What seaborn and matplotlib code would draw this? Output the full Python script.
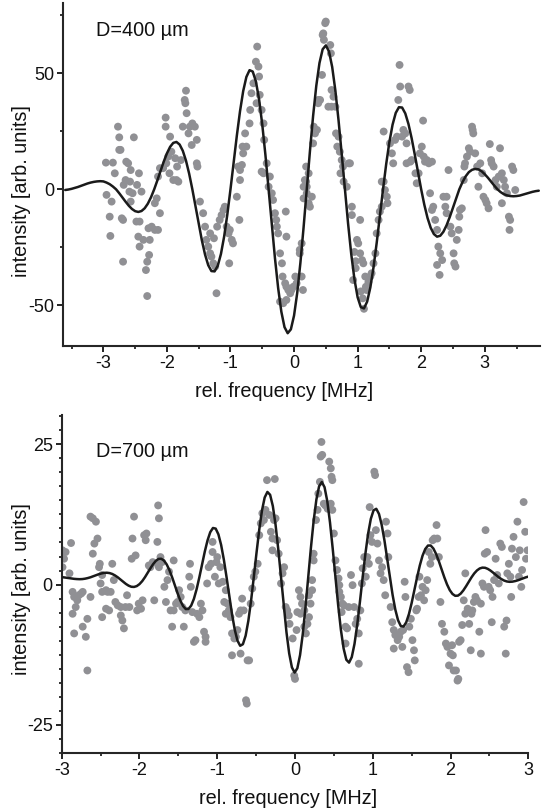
import numpy as np
import pandas as pd
import matplotlib
matplotlib.use("Agg")
import matplotlib.pyplot as plt
import seaborn as sns

# ---------------- data: top panel (D = 400 um) ----------------
top_pts_x = [-2.96,-2.85,-2.77,-2.75,-2.75,-2.73,-2.82,-2.95,-2.87,-2.90,-2.89,-2.71,-2.69,-2.69,-2.58,-2.52,-2.64,-2.61,-2.57,-2.65,
             -2.68,-2.59,-2.57,-2.54,-2.47,-2.44,-2.40,-2.48,-2.43,-2.45,-2.43,-2.37,-2.29,-2.27,-2.24,-2.31,-2.28,-2.33,-2.31,-2.19,
             -2.14,-2.11,-2.19,-2.16,-2.14,-2.11,-2.06,-2.01,-1.98,-1.95,-2.02,-2.02,-1.93,-1.87,-1.84,-1.85,-1.82,-1.90,-1.96,-1.78,
             -1.75,-1.72,-1.70,-1.71,-1.69,-1.66,-1.64,-1.60,-1.56,-1.53,-1.52,-1.53,-1.61,-1.48,-1.43,-1.40,-1.38,-1.35,-1.32,-1.30,
             -1.27,-1.24,-1.22,-1.32,-1.26,-1.21,-1.17,-1.14,-1.11,-1.09,-1.06,-1.03,-1.01,-0.98,-0.96,-1.02,-0.86,-0.90,-0.85,-0.85,
             -0.88,-0.82,-0.80,-0.81,-0.77,-0.75,-0.70,-0.69,-0.67,-0.64,-0.60,-0.58,-0.56,-0.55,-0.54,-0.59,-0.51,-0.48,-0.47,-0.48,
             -0.51,-0.43,-0.38,-0.40,-0.35,-0.33,-0.30,-0.28,-0.27,-0.25,-0.22,-0.19,-0.18,-0.14,-0.12,-0.09,-0.06,-0.04,-0.12,-0.17,
             -0.22,-0.01,0.04,0.02,0.09,-0.12,-0.13,0.12,0.15,0.20,0.19,0.15,
             0.09,0.12,0.14,0.17,0.20,0.23,0.25,0.28,0.23,0.19,0.30,0.33,0.36,0.31,0.38,0.38,0.41,0.44,0.45,0.47,
             0.49,0.46,0.50,0.57,0.58,0.59,0.62,0.65,0.59,0.54,0.66,0.70,0.68,0.72,0.75,0.77,0.73,0.78,0.83,0.86,
             0.88,0.91,0.91,0.93,0.99,1.01,1.04,1.04,1.07,1.09,1.12,1.13,1.14,1.20,1.22,1.25,1.28,1.30,1.33,1.35,
             1.38,1.38,1.41,1.43,1.46,1.47,1.41,1.51,1.54,1.56,1.59,1.62,1.64,1.66,1.67,1.70,1.72,1.75,1.77,1.80,
             1.82,1.77,1.83,1.85,1.91,1.93,1.96,1.98,2.01,2.03,2.04,2.06,2.09,2.12,2.14,2.17,2.17,2.19,2.22,2.25,
             2.27,2.30,2.33,2.29,2.25,2.35,2.40,2.43,2.38,2.40,2.46,2.48,2.51,2.52,2.54,2.56,2.59,2.60,2.61,2.64,
             2.67,2.68,2.69,2.72,2.75,2.77,2.80,2.81,2.82,2.85,2.88,2.90,2.93,2.96,2.98,3.01,3.03,3.06,3.08,3.10,
             3.11,3.14,3.17,3.19,3.22,3.24,3.27,3.30,3.27,3.32,3.35,3.38,3.39,3.43,3.45,3.48,3.40,
             1.10,1.08,1.05,0.97,0.95,0.97,1.17]
top_pts_y = [11.5,11.5,27.0,22.4,17.0,17.0,6.9,-2.4,-5.3,-11.8,-20.1,-12.5,-13.2,-31.2,3.3,22.4,11.9,11.2,8.3,4.0,
             1.9,-1.0,-5.3,-1.7,1.9,6.9,-1.0,-13.9,-13.9,-20.4,-24.7,-21.8,-16.8,-21.8,-16.1,-31.2,-28.3,-34.8,-46.0,-17.5,
             -17.5,-10.3,-6.0,-3.9,5.5,9.1,9.1,11.2,14.1,22.7,27.0,30.9,16.2,13.4,9.8,4.0,3.3,4.0,6.9,12.6,
             27.0,38.5,42.5,37.1,32.8,24.1,27.0,28.4,27.0,21.3,9.8,11.2,19.1,-5.3,-10.3,-16.1,-21.8,-24.7,-27.6,-29.0,
             -31.9,-33.3,-44.8,-19.0,-21.1,-16.1,-13.2,-11.1,-8.9,-7.5,-16.1,-19.0,-17.5,-21.8,-23.3,-31.9,-13.2,-3.2,4.0,8.3,
             9.8,10.5,15.5,18.4,24.1,18.4,28.4,34.2,41.4,45.7,55.0,61.5,52.9,48.6,40.7,37.1,34.2,28.4,21.3,6.9,
             7.6,11.2,5.5,1.1,-1.7,-4.6,-10.3,-13.2,-16.1,-19.0,-27.6,-31.9,-37.6,-40.5,-42.0,-43.4,-44.8,-43.4,-47.7,-49.1,
             -48.4,-42.0,-40.5,-37.6,-26.1,-20.4,-9.6,-23.3,1.1,1.1,3.3,-3.9,
             -27.6,-37.6,-43.4,4.0,-1.7,-6.0,-7.5,-3.2,6.9,9.8,19.8,24.1,25.6,27.0,38.5,37.1,38.5,49.3,66.5,64.4,
             71.6,67.2,72.3,62.2,58.6,42.8,39.9,35.6,35.6,35.6,24.1,22.7,18.4,16.2,12.6,9.8,6.9,3.3,1.1,11.2,
             11.2,-7.5,-11.1,-39.1,-21.8,-23.3,-13.2,-27.6,-30.5,-31.9,-37.6,-42.0,-43.4,-37.6,-36.2,-31.9,-27.6,-19.0,-13.2,-9.6,
             -7.5,3.3,3.3,-0.3,-3.2,-6.0,24.9,19.8,15.5,11.2,21.3,22.7,38.5,53.6,44.3,22.7,25.6,24.1,19.8,44.3,
             42.8,11.2,11.9,12.6,6.9,2.6,6.9,15.5,18.4,29.6,14.1,11.9,12.6,11.2,-1.7,11.9,-8.9,-7.5,-13.2,-17.5,
             -24.7,-27.6,-30.5,-36.9,-32.6,-3.2,-3.2,8.3,-7.5,-10.3,-16.1,-19.0,-27.6,-31.9,-33.3,-21.8,-17.5,-11.8,-8.9,-8.2,
             4.0,9.8,11.2,14.1,17.7,16.2,27.0,25.6,24.1,15.5,9.8,1.1,11.2,6.9,-3.2,-4.6,-6.0,-8.2,19.5,12.6,
             11.2,9.8,4.0,1.1,5.5,17.7,6.9,4.0,-6.0,1.1,-1.7,-11.8,-17.5,9.8,8.3,-0.3,-13.2,
             -51.5,-47.0,-44.0,-34.0,-27.0,-31.0,-40.0]

top_fit_x = [-3.60,-3.55,-3.50,-3.45,-3.40,-3.35,-3.30,-3.25,-3.20,-3.15,-3.10,-3.05,-3.00,-2.95,-2.90,-2.85,-2.80,-2.75,-2.70,-2.65,
             -2.60,-2.55,-2.50,-2.45,-2.40,-2.35,-2.30,-2.25,-2.20,-2.15,-2.10,-2.05,-2.00,-1.95,-1.90,-1.85,-1.80,-1.75,-1.70,-1.65,
             -1.60,-1.55,-1.50,-1.45,-1.40,-1.35,-1.30,-1.25,-1.20,-1.15,-1.10,-1.05,-1.00,-0.95,-0.90,-0.85,-0.80,-0.75,-0.70,-0.65,
             -0.60,-0.55,-0.50,-0.45,-0.40,-0.35,-0.30,-0.25,-0.20,-0.15,-0.10,-0.05,0.00,0.05,0.10,0.15,0.20,0.25,0.30,0.35,
             0.40,0.45,0.50,0.55,0.60,0.65,0.70,0.75,0.80,0.85,0.90,0.95,1.00,1.05,1.10,1.15,1.20,1.25,1.30,1.35,
             1.40,1.45,1.50,1.55,1.60,1.65,1.70,1.75,1.80,1.85,1.90,1.95,2.00,2.05,2.10,2.15,2.20,2.25,2.30,2.35,
             2.40,2.45,2.50,2.55,2.60,2.65,2.70,2.75,2.80,2.85,2.90,2.95,3.00,3.05,3.10,3.15,3.20,3.25,3.30,3.35,
             3.40,3.45,3.50,3.55,3.60,3.65,3.70,3.75,3.80,3.85]
top_fit_y = [-0.3,-0.1,0.2,0.6,1.0,1.5,2.0,2.5,2.9,3.2,3.4,3.5,3.4,2.9,2.2,1.2,0.0,-1.69,-3.51,-5.35,
             -7.07,-8.47,-9.42,-9.76,-9.36,-8.18,-6.18,-3.41,0.0,3.87,7.95,11.93,15.48,18.29,20.01,20.41,19.29,16.59,12.34,6.71,
             0.0,-7.38,-14.90,-22.02,-28.14,-32.71,-35.24,-35.38,-32.93,-27.86,-20.40,-10.93,0.0,11.63,23.13,33.64,42.33,48.42,51.35,50.76,
             46.50,38.74,27.93,14.72,0.0,-15.20,-29.74,-42.58,-52.74,-59.41,-62.02,-60.35,-54.42,-44.63,-31.67,-16.44,0.0,16.44,31.67,44.63,
             54.42,60.35,62.02,59.41,52.74,42.58,29.74,15.20,0.0,-14.72,-27.93,-38.74,-46.50,-50.76,-51.35,-48.42,-42.33,-33.64,-23.13,-11.63,
             0.0,10.93,20.40,27.86,32.93,35.38,35.24,32.71,28.14,22.02,14.90,7.38,0.0,-6.71,-12.34,-16.59,-19.29,-20.41,-20.01,-18.29,
             -15.48,-11.93,-7.95,-3.87,0.0,3.1,5.6,7.4,8.4,8.8,8.6,7.8,6.5,5.0,3.3,1.6,0.0,-1.2,-2.1,-2.6,
             -2.9,-3.0,-2.9,-2.7,-2.3,-1.9,-1.5,-1.1,-0.8,-0.6]

# ---------------- data: bottom panel (D = 700 um) ----------------
bot_pts_x = [-2.99,-2.99,-2.97,-2.95,-2.88,-2.90,-2.86,-2.84,-2.82,-2.86,-2.80,-2.78,-2.75,-2.73,-2.84,-2.73,-2.67,-2.69,-2.67,-2.63,
             -2.60,-2.58,-2.63,-2.60,-2.56,-2.54,-2.52,-2.51,-2.50,-2.48,-2.48,-2.43,-2.41,-2.43,-2.48,-2.39,-2.37,-2.35,-2.33,-2.31,
             -2.28,-2.24,-2.22,-2.24,-2.20,-2.18,-2.13,-2.16,-2.10,-2.07,-2.09,-2.05,-2.01,-2.03,-1.98,-1.96,-1.94,-1.92,-1.91,-1.88,
             -1.86,-1.83,-1.81,-1.77,-1.75,-1.77,-1.75,-1.76,-1.73,-1.71,-1.68,-1.66,-1.64,-1.62,-1.60,-1.58,-1.56,-1.53,-1.51,-1.56,
             -1.49,-1.47,-1.45,-1.43,-1.41,-1.36,-1.35,-1.34,-1.32,-1.30,-1.28,-1.26,-1.23,-1.21,-1.19,-1.17,-1.15,-1.15,-1.13,-1.11,
             -1.08,-1.06,-1.06,-1.03,-1.01,-1.00,-0.98,-0.96,-0.93,-0.91,-0.89,-0.87,-0.89,-0.85,-0.83,-0.81,-0.78,-0.81,-0.76,-0.74,
             -0.72,-0.70,-0.68,-0.70,-0.66,-0.63,-0.62,-0.61,-0.59,-0.57,-0.55,-0.53,-0.51,-0.48,-0.46,-0.44,-0.42,-0.40,-0.38,-0.36,
             -0.26,-0.33,-0.31,-0.29,-0.29,-0.27,-0.25,-0.23,-0.21,-0.18,-0.16,-0.14,-0.12,-0.10,-0.08,-0.07,-0.03,-0.01,0.00,0.02,
             0.03,
             0.05,0.07,0.09,0.12,0.07,0.12,0.14,0.16,0.18,0.20,0.18,0.22,0.22,0.24,0.24,0.27,0.29,0.30,0.32,0.33,
             0.35,0.34,0.37,0.39,0.42,0.44,0.46,0.47,0.48,0.46,0.48,0.50,0.52,0.54,0.56,0.57,0.57,0.59,0.60,0.61,
             0.63,0.65,0.65,0.67,0.69,0.72,0.74,0.76,0.78,0.80,0.82,0.82,0.84,0.86,0.87,0.89,0.91,0.93,0.95,0.96,
             0.97,0.99,1.02,1.03,1.04,1.06,1.08,1.10,1.12,1.14,1.16,1.17,1.19,1.20,1.23,1.25,1.27,1.29,1.27,1.32,
             1.34,1.36,1.38,1.39,1.41,1.42,1.44,1.46,1.47,1.49,1.51,1.53,1.54,1.56,1.57,1.59,1.60,1.62,1.64,1.66,
             1.68,1.70,1.72,1.74,1.76,1.77,1.79,1.82,1.83,1.85,1.87,1.89,1.92,1.94,1.96,1.98,2.00,2.02,2.03,2.04,
             2.07,2.09,2.10,2.11,2.13,2.15,2.17,2.19,2.19,2.22,2.24,2.26,2.27,2.28,2.30,2.32,2.34,2.37,2.39,2.41,
             2.39,2.43,2.44,2.45,2.47,2.49,2.51,2.53,2.54,2.56,2.58,2.60,2.62,2.64,2.66,2.69,2.71,2.72,2.73,2.75,
             2.77,2.78,2.79,2.81,2.84,2.86,2.88,2.89,2.91,2.92,2.94,2.96,2.97,2.99]
bot_pts_y = [6.1,3.1,4.6,5.8,7.4,2.0,-1.3,-2.2,-4.0,-5.2,-2.8,-1.9,-1.6,-1.3,-8.7,-7.5,-6.1,-9.3,-15.3,-2.2,
             5.5,7.3,12.1,11.8,11.2,8.2,3.1,3.7,0.2,-1.3,1.7,-1.0,-1.3,-4.3,-5.8,-4.6,-1.3,3.7,0.8,-3.1,
             -3.7,-4.0,-6.4,-5.5,-7.8,-4.0,-4.0,-1.9,4.6,12.1,8.2,5.2,-3.4,-4.6,-4.3,-2.8,8.8,7.9,9.1,3.4,
             3.1,4.0,-2.8,3.7,3.1,7.6,11.8,14.1,4.9,4.0,-0.4,-3.1,0.8,2.3,-4.6,-7.5,-4.6,-3.4,-3.1,4.3,
             -1.0,-2.2,-4.0,-7.5,-4.6,1.4,3.7,-0.4,-4.9,-10.2,-9.9,-5.2,-5.8,-3.4,-4.6,-8.4,-9.3,-10.2,0.2,3.1,
             3.7,5.8,7.6,1.4,4.0,4.9,0.2,3.1,0.5,-3.1,-1.0,-3.4,-5.2,-4.6,-5.8,-8.7,-9.6,-12.6,-9.3,-8.1,
             -5.2,-4.6,-2.5,-12.3,-4.6,-20.6,-21.2,-13.5,-13.5,-3.4,-0.7,1.4,2.3,3.7,8.8,10.9,12.7,11.5,13.3,18.6,
             18.8,12.4,9.4,8.2,6.1,11.5,11.8,7.9,5.5,0.2,2.0,3.1,-4.0,-4.6,-5.5,-7.0,-9.6,-16.2,-16.8,-8.1,
             -4.9,
             -1.0,-2.2,-3.4,-4.6,-5.2,-7.5,-8.7,-7.0,-5.8,-3.4,-1.9,-1.0,0.8,4.3,5.5,11.5,13.3,16.2,18.3,22.8,
             23.1,25.4,14.4,14.1,13.5,21.9,20.7,19.2,18.6,14.4,13.3,9.1,4.3,2.6,1.1,-0.1,-1.3,-2.2,-4.9,-3.4,
             -3.7,-10.5,-7.5,-7.8,-4.0,1.7,-0.1,-4.0,-7.0,-6.1,-14.1,-8.7,-4.6,0.2,2.9,4.9,1.4,4.9,3.7,13.8,
             8.8,7.6,20.1,19.5,9.7,7.3,4.3,2.0,3.1,0.8,-1.9,11.2,9.1,4.9,-4.0,-6.7,-8.1,-9.0,-11.4,-9.9,
             -9.3,-8.4,-11.1,-8.1,0.5,-2.2,-14.7,-15.6,-7.5,-6.1,-9.9,-11.7,-13.5,-4.6,-4.3,-2.2,1.4,-1.9,-0.4,-2.8,
             -1.0,0.8,5.8,3.7,4.9,7.9,8.2,10.6,8.2,4.9,-3.1,-7.0,-8.4,-10.5,-11.1,-14.4,-12.3,-10.8,-12.6,-15.3,
             -15.3,-17.1,-16.8,-10.2,-9.9,-7.2,-2.8,2.0,-5.2,-4.3,-7.0,-11.7,-5.2,-4.6,-3.1,-2.2,-2.8,-8.4,-3.4,0.2,
             -12.3,-0.4,5.5,9.7,5.8,-0.4,-1.0,-6.7,-2.2,0.8,4.6,1.7,0.2,7.3,6.7,-7.5,-12.3,-6.4,2.0,3.7,
             1.4,-2.2,6.4,8.5,4.9,11.2,1.4,6.1,-0.4,2.6,14.7,9.4,4.6,6.1]

bot_fit_x = [-3.015,-2.98,-2.945,-2.91,-2.875,-2.84,-2.805,-2.77,-2.735,-2.70,-2.665,-2.63,-2.595,-2.56,-2.525,-2.49,-2.455,-2.42,-2.385,-2.35,
             -2.315,-2.28,-2.245,-2.21,-2.175,-2.14,-2.105,-2.07,-2.035,-2.00,-1.965,-1.93,-1.895,-1.86,-1.825,-1.79,-1.755,-1.72,-1.685,-1.65,
             -1.615,-1.58,-1.545,-1.51,-1.475,-1.44,-1.405,-1.37,-1.335,-1.30,-1.265,-1.23,-1.195,-1.16,-1.125,-1.09,-1.055,-1.02,-0.985,-0.95,
             -0.915,-0.88,-0.845,-0.81,-0.775,-0.74,-0.705,-0.67,-0.635,-0.60,-0.565,-0.53,-0.495,-0.46,-0.425,-0.39,-0.355,-0.32,-0.285,-0.25,
             -0.215,-0.18,-0.145,-0.11,-0.075,-0.04,-0.005,0.03,0.065,0.10,0.135,0.17,0.205,0.24,0.275,0.31,0.345,0.38,0.415,0.45,
             0.485,0.52,0.555,0.59,0.625,0.66,0.695,0.73,0.765,0.80,0.835,0.87,0.905,0.94,0.975,1.01,1.045,1.08,1.115,1.15,
             1.185,1.22,1.255,1.29,1.325,1.36,1.395,1.43,1.465,1.50,1.535,1.57,1.605,1.64,1.675,1.71,1.745,1.78,1.815,1.85,
             1.885,1.92,1.955,1.99,2.025,2.06,2.095,2.13,2.165,2.20,2.235,2.27,2.305,2.34,2.375,2.41,2.445,2.48,2.515,2.55,
             2.585,2.62,2.655,2.69,2.725,2.76,2.795,2.83,2.865,2.90,2.935,2.97,3.005]
bot_fit_y = [1.36,1.30,1.23,1.16,1.08,1.02,0.98,0.96,0.98,1.05,1.16,1.30,1.47,1.66,1.84,1.98,2.08,2.11,2.05,1.89,
             1.63,1.30,0.91,0.50,0.12,-0.19,-0.39,-0.42,-0.27,0.08,0.61,1.30,2.09,2.89,3.63,4.22,4.57,4.60,4.27,3.59,
             2.57,1.30,-0.12,-1.55,-2.83,-3.81,-4.36,-4.35,-3.74,-2.54,-0.81,1.30,3.61,5.88,7.86,9.33,10.08,9.97,8.95,7.06,
             4.44,1.30,-2.05,-5.28,-8.02,-9.98,-10.90,-10.62,-9.11,-6.45,-2.87,1.30,5.66,9.76,13.17,15.51,16.50,15.99,13.98,10.64,
             6.27,1.30,-3.78,-8.46,-12.25,-14.74,-15.67,-14.91,-12.55,-8.79,-4.01,1.30,6.61,11.39,15.15,17.51,18.27,17.34,14.85,11.06,
             6.38,1.30,-3.67,-8.04,-11.38,-13.39,-13.90,-12.91,-10.57,-7.16,-3.06,1.30,5.47,9.05,11.71,13.22,13.50,12.58,10.62,7.88,
             4.65,1.30,-1.84,-4.46,-6.35,-7.37,-7.48,-6.73,-5.26,-3.28,-1.01,1.30,3.41,5.14,6.34,6.95,6.96,6.41,5.43,4.15,
             2.72,1.30,0.03,-0.99,-1.67,-2.00,-1.97,-1.62,-1.03,-0.29,0.51,1.30,1.99,2.52,2.87,3.02,2.99,2.79,2.48,2.10,
             1.69,1.30,0.97,0.71,0.55,0.49,0.52,0.62,0.76,0.94,1.13,1.30,1.44]

top_xticks = [-3, -2, -1, 0, 1, 2, 3]
top_yticks = [-50, 0, 50]
bot_xticks = [-3, -2, -1, 0, 1, 2, 3]
bot_yticks = [-25, 0, 25]
xlabel = "rel. frequency [MHz]"
ylabel = "intensity [arb. units]"
top_title = "D=400 µm"
bot_title = "D=700 µm"

# ---------------- style ----------------
sns.set_style("ticks")
plt.rcParams['font.family'] = ['Liberation Sans', 'DejaVu Sans']
plt.rcParams['axes.unicode_minus'] = False
plt.rcParams['axes.linewidth'] = 1.5
plt.rcParams['xtick.direction'] = 'out'
plt.rcParams['ytick.direction'] = 'out'

PT_COLOR = '#909094'
LINE_COLOR = '#1a1a1a'
TXT = '#111111'

fig = plt.figure(figsize=(5.51, 8.09), dpi=100)
ax1 = fig.add_axes([0.1149, 0.5727, 0.8652, 0.4236])
ax2 = fig.add_axes([0.1120, 0.0692, 0.8468, 0.4178])

top_pts = pd.DataFrame({'x': top_pts_x, 'y': top_pts_y})
top_fit = pd.DataFrame({'x': top_fit_x, 'y': top_fit_y})
bot_pts = pd.DataFrame({'x': bot_pts_x, 'y': bot_pts_y})
bot_fit = pd.DataFrame({'x': bot_fit_x, 'y': bot_fit_y})

for ax, pts, fit in [(ax1, top_pts, top_fit), (ax2, bot_pts, bot_fit)]:
    sns.scatterplot(data=pts, x='x', y='y', ax=ax, color=PT_COLOR, s=32,
                    linewidth=0, edgecolor='none', zorder=2)
    sns.lineplot(data=fit, x='x', y='y', ax=ax, color=LINE_COLOR, lw=1.8,
                 sort=False, estimator=None, zorder=3)

# top axes
ax1.set_xlim(-3.63, 3.87)
ax1.set_ylim(-67.4, 80.3)
ax1.set_xticks(top_xticks)
ax1.set_xticks(np.arange(-3.5, 4.0, 1.0), minor=True)
ax1.set_yticks(top_yticks)
ax1.set_yticks([-25, 25, 75], minor=True)

# bottom axes
ax2.set_xlim(-3, 3)
ax2.set_ylim(-30, 30.2)
ax2.set_xticks(bot_xticks)
ax2.set_xticks(np.arange(-2.5, 3.0, 1.0), minor=True)
ax2.set_yticks(bot_yticks)
ax2.set_yticks(np.arange(-30, 30.1, 2.5), minor=True)

label_pos = {
    'top': dict(x=(0.464, -0.105), y=(-0.068, 0.45)),
    'bot': dict(x=(0.485, -0.105), y=(-0.066, 0.485)),
}
for ax, key in [(ax1, 'top'), (ax2, 'bot')]:
    sns.despine(ax=ax)
    ax.spines['left'].set_linewidth(1.5)
    ax.spines['bottom'].set_linewidth(1.5)
    ax.tick_params(which='major', length=4, width=1.3, labelsize=13, pad=2.5, colors=TXT)
    ax.tick_params(which='minor', length=2.5, width=1.2, colors=TXT)
    ax.set_xlabel(xlabel, fontsize=14.3, color=TXT)
    ax.set_ylabel(ylabel, fontsize=14.3, color=TXT)
    ax.xaxis.set_label_coords(*label_pos[key]['x'])
    ax.yaxis.set_label_coords(*label_pos[key]['y'])

ax1.text(0.069, 0.904, top_title, transform=ax1.transAxes, fontsize=14.3,
         va='baseline', ha='left', color=TXT)
ax2.text(0.0735, 0.876, bot_title, transform=ax2.transAxes, fontsize=14.3,
         va='baseline', ha='left', color=TXT)

fig.savefig('out.png', dpi=100)
